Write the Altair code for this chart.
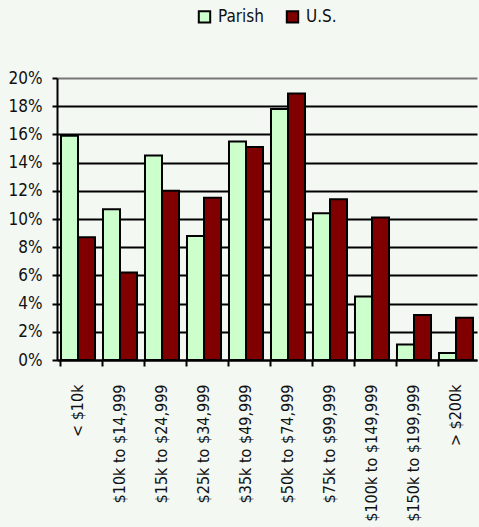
import altair as alt
import pandas as pd

categories = ["< $10k", "$10k to $14,999", "$15k to $24,999", "$25k to $34,999",
              "$35k to $49,999", "$50k to $74,999", "$75k to $99,999",
              "$100k to $149,999", "$150k to $199,999", "> $200k"]
parish = [15.9, 10.7, 14.5, 8.8, 15.5, 17.8, 10.4, 4.5, 1.1, 0.5]
us = [8.7, 6.2, 12.0, 11.5, 15.1, 18.9, 11.4, 10.1, 3.2, 3.0]
series = ["Parish", "U.S."]
y_ticks = [0, 0.02, 0.04, 0.06, 0.08, 0.10, 0.12, 0.14, 0.16, 0.18, 0.20]

rows = []
for c, p, u in zip(categories, parish, us):
    rows.append({"cat": c, "series": "Parish", "value": p / 100})
    rows.append({"cat": c, "series": "U.S.", "value": u / 100})
df = pd.DataFrame(rows)

FONT = "DejaVu Sans Condensed"

chart = alt.Chart(df).mark_bar(stroke="black", strokeWidth=2).encode(
    x=alt.X("cat:N", sort=categories, title=None,
            scale=alt.Scale(paddingInner=0.19, paddingOuter=0.095),
            axis=alt.Axis(labelAngle=-90, labelPadding=18, tickSize=6,
                          bandPosition=0, domainColor="black", tickColor="black",
                          domainWidth=2, tickWidth=2,
                          labelFont=FONT, labelFontSize=16, labelColor="#111111")),
    xOffset=alt.XOffset("series:N", sort=series),
    y=alt.Y("value:Q", title=None,
            scale=alt.Scale(domain=[0, 0.2], nice=False),
            axis=alt.Axis(values=y_ticks, format=".0%", tickSize=5, labelPadding=10,
                          domainColor="black", tickColor="black", domainWidth=2,
                          tickWidth=2,
                          gridColor={"condition": {"test": "datum.value >= 0.2", "value": "#777777"},
                                     "value": "black"},
                          gridWidth=2,
                          labelFont=FONT, labelFontSize=17, labelColor="#111111")),
    color=alt.Color("series:N", sort=series, title=None,
                    scale=alt.Scale(domain=series, range=["#CCFFCC", "#800000"]),
                    legend=alt.Legend(orient="none", legendX=139, legendY=-70,
                                      direction="horizontal", symbolType="square",
                                      symbolSize=130, symbolStrokeColor="black",
                                      symbolStrokeWidth=2, labelFont=FONT,
                                      labelFontSize=17, labelColor="#111111",
                                      columnPadding=17, labelOffset=5)),
).properties(
    width=420, height=282,
    autosize=alt.AutoSizeParams(type="none"),
    padding={"left": 57, "top": 78, "right": 2, "bottom": 167},
    background="#F4F8F2",
).configure_view(stroke=None)

chart.save("out.html", embed_options={"renderer": "svg", "actions": False})
